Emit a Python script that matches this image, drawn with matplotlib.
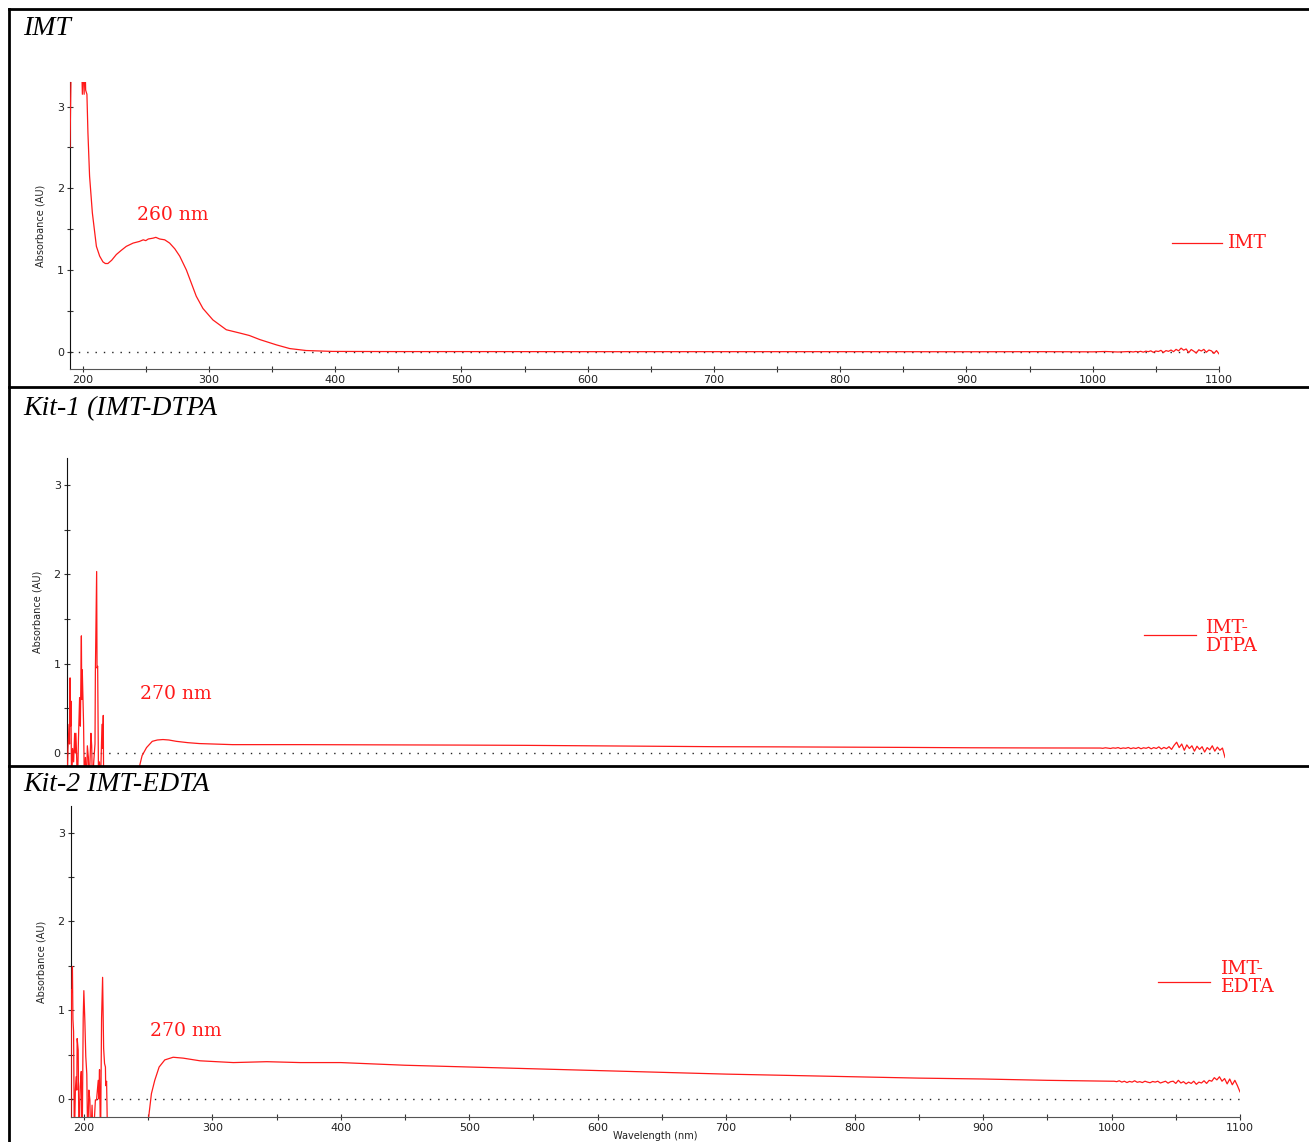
import matplotlib
matplotlib.use("Agg")
import matplotlib.pyplot as plt
from matplotlib.lines import Line2D
from matplotlib.ticker import MultipleLocator

W, H = 1309, 1142

# IMT spectrum
imt_wl = [190, 191, 193, 196, 199, 199.8, 200.5, 201.2, 201.8, 202.4,
          203.4, 204.2, 205.5, 207.7, 210.9, 213.5, 216.1, 218, 220, 223,
          226.7, 230.5, 234.6, 240, 245, 248, 250, 252, 255.7, 258,
          261, 265, 268.9, 273, 276.9, 282.2, 286.1, 290, 295.3, 303.2,
          313.8, 324.4, 332, 340.3, 353.5, 364, 377, 398, 450, 500,
          600, 700, 800, 900, 960, 1000, 1010, 1020, 1028]
imt_abs = [2.5, 3.6, 3.8, 3.8, 3.7, 3.15, 3.6, 3.15, 3.6, 3.2,
           3.15, 2.68, 2.15, 1.70, 1.29, 1.17, 1.10, 1.08, 1.08, 1.12,
           1.19, 1.24, 1.29, 1.33, 1.35, 1.37, 1.36, 1.38, 1.39, 1.40,
           1.38, 1.37, 1.33, 1.26, 1.17, 1.0, 0.84, 0.68, 0.53, 0.39,
           0.27, 0.23, 0.20, 0.15, 0.085, 0.04, 0.016, 0.005, 0.003, 0.003,
           0.002, 0.002, 0.002, 0.001, 0.002, 0.0, 0.004, -0.002, 0.003]
imt_tail_wl = list(range(1030, 1101, 2))
imt_tail_abs = [0.003, -0.002, 0.004, 0.0, 0.006, -0.004, 0.008, 0.002, 0.012, -0.006,
                0.01, 0.004, 0.018, -0.008, 0.015, 0.006, 0.022, 0.002, 0.03, 0.012,
                0.045, 0.02, 0.035, -0.01, 0.028, 0.008, -0.015, 0.025, 0.01, 0.03,
                -0.005, 0.022, 0.012, -0.02, 0.015, -0.025]

# Kit-1 (IMT-DTPA)
dtpa_wl = [190.0, 190.8, 191.6, 192.0, 192.4, 192.8, 193.1, 193.6, 194.4, 195.2,
           196.0, 196.5, 197.0, 197.6, 198.2, 199.0, 199.9, 200.5, 201.3, 201.6,
           202.0, 203.0, 203.7, 204.5, 205.2, 206.0, 206.8, 207.4, 208.8, 209.4,
           210.0, 211.0, 212.0, 212.3, 213.3, 213.6, 214.1, 214.8, 215.5, 216.2,
           217.5, 218.0, 218.5, 218.8, 230, 240, 246.5, 247.3, 249, 252.5,
           257, 261, 265.4, 270, 275.9, 285, 294, 320, 372.7, 400,
           450, 500, 550, 600, 650, 700, 750, 800, 850, 900,
           950, 1000]
dtpa_abs = [-0.4, 0.05, 0.32, 0.10, 0.84, 0.30, 0.58, -0.4, 0.05, -0.1,
            0.22, 0.0, 0.22, -0.05, -0.4, 0.15, 0.62, 0.30, 1.31, 0.60,
            0.93, 0.34, -0.4, -0.05, -0.4, 0.08, -0.05, -0.4, 0.22, 0.08,
            -0.4, -0.1, 0.10, 0.91, 2.03, 0.95, 0.97, -0.4, -0.1, -0.4,
            0.32, 0.05, 0.42, -0.4, -0.6, -0.6, -0.25, -0.13, -0.03, 0.06,
            0.13, 0.145, 0.15, 0.145, 0.13, 0.115, 0.105, 0.093, 0.093, 0.092,
            0.09, 0.088, 0.085, 0.08, 0.075, 0.07, 0.068, 0.065, 0.062, 0.058,
            0.056, 0.055]
dtpa_tail_wl = list(range(1002, 1101, 2))
dtpa_tail_abs = [0.055, 0.052, 0.058, 0.054, 0.05, 0.057, 0.053, 0.06, 0.049, 0.056,
                 0.052, 0.061, 0.048, 0.057, 0.05, 0.062, 0.047, 0.058, 0.052, 0.064,
                 0.046, 0.06, 0.05, 0.068, 0.044, 0.062, 0.048, 0.07, 0.04,
                 0.085, 0.12, 0.06, 0.1, 0.03, 0.09, 0.05, 0.08, 0.02, 0.075,
                 0.04, 0.07, 0.01, 0.06, 0.035, 0.08, 0.02, 0.065, 0.03, 0.055, -0.05]

# Kit-2 (IMT-EDTA)
edta_wl = [190.0, 190.3, 190.7, 191.1, 191.5, 192.0, 192.6, 193.4, 194.0, 194.5,
           194.8, 195.6, 196.2, 197.2, 198.0, 198.7, 199.5, 200.0, 200.8, 201.5,
           202.3, 203.0, 203.9, 204.7, 205.3, 206.4, 207.2, 209.0, 209.9, 211.2,
           211.6, 212.2, 213.0, 213.8, 214.6, 215.4, 216.1, 216.8, 217.0, 217.7,
           218.5, 219.5, 235, 250.0, 250.5, 252.6, 255.2, 258.6, 263.0, 269.5,
           277.3, 290.4, 316.4, 342.4, 368.5, 400, 450, 500, 550, 600,
           650, 700, 750, 800, 850, 900, 950, 1000]
edta_abs = [-0.5, 1.23, 1.2, 1.49, 0.9, 0.76, -0.5, 0.1, 0.25, 0.1,
            0.68, 0.55, -0.5, 0.14, 0.31, -0.5, 0.91, 1.22, 0.87, 0.48,
            0.28, -0.5, 0.10, -0.01, -0.5, -0.07, -0.5, -0.01, -0.01, 0.21,
            0.0, 0.33, -0.5, 0.91, 1.37, 0.57, 0.40, 0.36, 0.15, 0.20,
            -0.5, -0.5, -0.8, -0.3, -0.2, 0.06, 0.21, 0.36, 0.44, 0.47,
            0.46, 0.43, 0.41, 0.42, 0.41, 0.41, 0.38, 0.36, 0.34, 0.32,
            0.30, 0.28, 0.265, 0.25, 0.235, 0.225, 0.21, 0.20]
edta_tail_wl = list(range(1002, 1101, 2))
edta_tail_abs = [0.2, 0.195, 0.205, 0.19, 0.2, 0.185, 0.198, 0.19, 0.205, 0.188,
                 0.195, 0.185, 0.2, 0.19, 0.183, 0.197, 0.19, 0.2, 0.18, 0.19,
                 0.2, 0.178, 0.195, 0.2, 0.175, 0.21, 0.18, 0.195, 0.17,
                 0.19, 0.175, 0.2, 0.165, 0.19, 0.18, 0.205, 0.175, 0.21, 0.2,
                 0.24, 0.215, 0.25, 0.2, 0.23, 0.17, 0.225, 0.16, 0.21, 0.15, 0.08]

panel_titles = ["IMT", "Kit-1 (IMT-DTPA", "Kit-2 IMT-EDTA"]
legend_labels = ["IMT", "IMT-\nDTPA", "IMT-\nEDTA"]
peak_labels = ["260 nm", "270 nm", "270 nm"]

RED = "#ff1a1a"


def fx(px):
    return px / W


def fy(py):
    return 1 - py / H


def style_axis(ax, ylo, show_x=True):
    ax.set_xlim(190, 1100)
    ax.set_ylim(ylo, 3.3)
    for side in ("top", "right"):
        ax.spines[side].set_visible(False)
    ax.spines["left"].set_color("#111111")
    ax.spines["bottom"].set_color("#555555")
    ax.set_yticks([0, 1, 2, 3])
    ax.yaxis.set_minor_locator(MultipleLocator(0.5))
    ax.set_xticks(range(200, 1101, 100))
    ax.xaxis.set_minor_locator(MultipleLocator(50))
    ax.tick_params(which="both", direction="inout", length=5, width=0.8,
                   color="#333333", labelsize=8, labelcolor="#222222", pad=2)
    ax.axhline(0, color="#222222", lw=1, ls=(0, (1, 5)), zorder=1)
    ax.set_ylabel("Absorbance (AU)", fontsize=7, family=["Liberation Sans Narrow", "DejaVu Sans"],
                  color="#222222")
    ax.yaxis.set_label_coords(-0.021, 0.5)
    if not show_x:
        ax.spines["bottom"].set_visible(False)
        ax.tick_params(axis="x", which="both", bottom=False, labelbottom=False)


fig = plt.figure(figsize=(W / 100, H / 100), dpi=100)

ax1 = fig.add_axes([fx(70), fy(369), fx(1219 - 70), (369 - 82) / H])
ax2 = fig.add_axes([fx(67), fy(766), fx(1225 - 67), (766 - 458) / H])
ax3 = fig.add_axes([fx(71), fy(1117), fx(1240 - 71), (1117 - 806) / H])

style_axis(ax1, -0.21)
style_axis(ax2, -0.146, show_x=False)
style_axis(ax3, -0.203)

ax1.plot(imt_wl + imt_tail_wl, imt_abs + imt_tail_abs, color=RED, lw=0.9, zorder=3)
ax2.plot(dtpa_wl + dtpa_tail_wl, dtpa_abs + dtpa_tail_abs, color=RED, lw=0.9, zorder=3)
ax3.plot(edta_wl + edta_tail_wl, edta_abs + edta_tail_abs, color=RED, lw=0.9, zorder=3)

# frame of the figure table
frame_kw = dict(color="black", lw=2, transform=fig.transFigure)
fig.add_artist(Line2D([fx(9), fx(9)], [fy(9), fy(1142)], **frame_kw))
for y in (9, 387, 766):
    fig.add_artist(Line2D([fx(9), fx(1309)], [fy(y), fy(y)], **frame_kw))

# panel titles
for title, base in zip(panel_titles, (35, 415, 791)):
    fig.text(fx(23), fy(base), title, fontsize=20, style="italic",
             family="Liberation Serif", va="baseline", ha="left")

# peak annotations
for label, (x, y) in zip(peak_labels, ((173, 215), (176, 694), (186, 1031))):
    fig.text(fx(x), fy(y), label, fontsize=13.5, family="DejaVu Serif",
             color=RED, ha="center", va="center")

# legends
legend_pos = [(1172, 1222, 243, 1228, 243), (1144, 1196, 635, 1206, 637),
              (1158, 1210, 982, 1221, 978)]
for label, (x0, x1, ly, tx, ty) in zip(legend_labels, legend_pos):
    fig.add_artist(Line2D([fx(x0), fx(x1)], [fy(ly), fy(ly)], color=RED, lw=0.9,
                          transform=fig.transFigure))
    fig.text(fx(tx), fy(ty), label, fontsize=13.5, family="DejaVu Serif", color=RED,
             ha="left", va="center", linespacing=0.95)

fig.text(fx(655), fy(1141), "Wavelength (nm)", fontsize=7, color="#222222",
         ha="center", va="bottom")

fig.savefig("out.png", dpi=100)
